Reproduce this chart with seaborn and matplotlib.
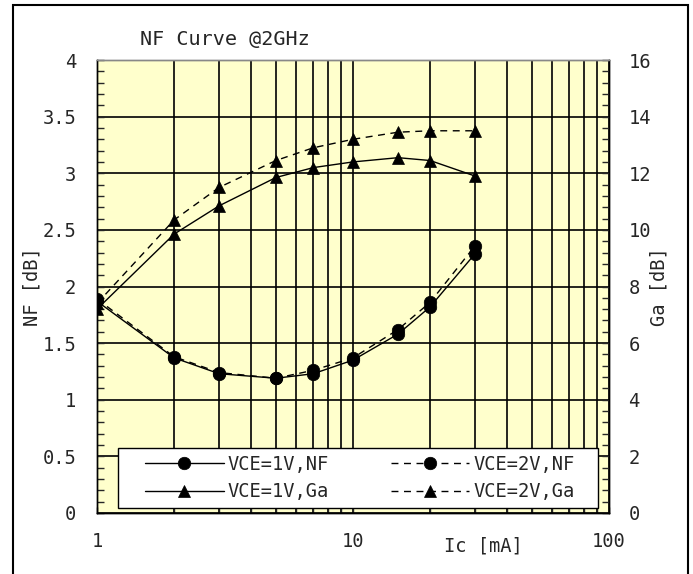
import numpy as np
import pandas as pd
import matplotlib
matplotlib.use('Agg')
import matplotlib.pyplot as plt
import seaborn as sns
from matplotlib.lines import Line2D
from matplotlib.patches import Rectangle
from matplotlib.ticker import LogLocator, NullFormatter, MultipleLocator

# Data
ic = [1, 2, 3, 5, 7, 10, 15, 20, 30]
nf_1v = [1.87, 1.37, 1.23, 1.19, 1.23, 1.35, 1.58, 1.82, 2.29]
nf_2v = [1.89, 1.38, 1.24, 1.19, 1.26, 1.37, 1.62, 1.86, 2.36]
ga_1v = [7.2, 9.85, 10.85, 11.85, 12.2, 12.4, 12.55, 12.45, 11.9]
ga_2v = [7.4, 10.35, 11.5, 12.45, 12.9, 13.2, 13.45, 13.5, 13.5]
labels = ['VCE=1V,NF', 'VCE=1V,Ga', 'VCE=2V,NF', 'VCE=2V,Ga']
nf_ticks = [0, 0.5, 1, 1.5, 2, 2.5, 3, 3.5, 4]
ga_ticks = [0, 2, 4, 6, 8, 10, 12, 14, 16]

sns.set_style('ticks')
plt.rcParams['font.family'] = ['DejaVu Sans Mono']
FS = 13.5

fig = plt.figure(figsize=(6.93, 5.74), dpi=100)
ax = fig.add_axes([97/693, 1 - 513/574, 512/693, 453/574])
ax.set_facecolor('#ffffcc')
ax2 = ax.twinx()

dash = (0, (5, 4))
line_kw = dict(color='black', linewidth=1.0, markeredgecolor='black', markeredgewidth=0.5)

# NF on left axis
sns.lineplot(x=ic, y=nf_1v, ax=ax, marker='o', markersize=9, linestyle='-', **line_kw)
sns.lineplot(x=ic, y=nf_2v, ax=ax, marker='o', markersize=9, linestyle=dash, **line_kw)
# Ga on right axis
sns.lineplot(x=ic, y=ga_1v, ax=ax2, marker='^', markersize=8, linestyle='-', **line_kw)
sns.lineplot(x=ic, y=ga_2v, ax=ax2, marker='^', markersize=8, linestyle=dash, **line_kw)

ax.set_xscale('log')
ax.set_xticks([1, 10, 100])
ax.set_xticklabels(['1', '10', '100'], fontsize=FS)
ax.xaxis.set_minor_locator(LogLocator(base=10, subs=np.arange(2, 10)))
ax.xaxis.set_minor_formatter(NullFormatter())

ax.set_yticks(nf_ticks)
ax.set_yticklabels([f'{v:g}' for v in nf_ticks], fontsize=FS)
ax.yaxis.set_minor_locator(MultipleLocator(0.1))
ax2.set_yticks(ga_ticks)
ax2.set_yticklabels([f'{v:g}' for v in ga_ticks], fontsize=FS)
ax2.yaxis.set_minor_locator(MultipleLocator(0.4))

ax.set_xlim(1, 100)
ax.set_ylim(0, 4)
ax2.set_ylim(0, 16)

# grid
ax.grid(which='major', axis='both', color='black', linewidth=1.2)
ax.grid(which='minor', axis='x', color='black', linewidth=1.2)
ax2.grid(False)

ax.tick_params(axis='x', which='both', direction='in', length=4, width=1, pad=14, top=False)
ax.tick_params(axis='y', which='major', direction='in', length=5, width=1, pad=15, right=False)
ax.tick_params(axis='y', which='minor', direction='in', length=5, width=1, right=False)
ax2.tick_params(axis='y', which='major', direction='in', length=5, width=1, pad=14)
ax2.tick_params(axis='y', which='minor', direction='in', length=5, width=1)

for a in (ax, ax2):
    for s in a.spines.values():
        s.set_color('black')
        s.set_linewidth(1.0)
    a.spines['top'].set_color('#888888')

ax.set_xlabel('')
ax.set_ylabel('NF [dB]', fontsize=FS)
ax.yaxis.set_label_coords(-0.109, 0.5)
ax2.set_ylabel('Ga [dB]', fontsize=FS, rotation=90)
ax2.yaxis.set_label_coords(1.080, 0.5)

fig.text(483/693, 1 - 546/574, 'Ic [mA]', fontsize=FS, ha='center', va='center')
fig.text(140/693, 1 - 40/574, 'NF Curve @2GHz', fontsize=14.5, ha='left', va='center')

# legend: white box with black edge, entries placed inside it
ax2.add_patch(Rectangle(((118 - 97)/512, (513 - 508)/453), (598 - 118)/512, 60/453,
                        transform=ax2.transAxes, facecolor='white', edgecolor='black',
                        linewidth=1.0, zorder=4))
handles = [
    Line2D([], [], marker='o', markersize=9, linestyle='-', **line_kw),
    Line2D([], [], marker='^', markersize=8, linestyle='-', **line_kw),
    Line2D([], [], marker='o', markersize=9, linestyle=dash, **line_kw),
    Line2D([], [], marker='^', markersize=8, linestyle=dash, **line_kw),
]
leg = ax2.legend(handles, labels, ncol=2, loc='center left',
                 bbox_to_anchor=((145 - 97)/512, (513 - 478)/453),
                 fontsize=FS, frameon=False, borderpad=0, borderaxespad=0,
                 handlelength=4.2, columnspacing=3.3, handletextpad=0.2,
                 labelspacing=0.45)
leg.set_zorder(5)

# outer frame of the figure
fig.patches.append(Rectangle((13/693, -0.02), 675/693, 1.02 - 5/574, transform=fig.transFigure,
                             fill=False, edgecolor='black', linewidth=1.5))

fig.savefig('out.png', dpi=100)
